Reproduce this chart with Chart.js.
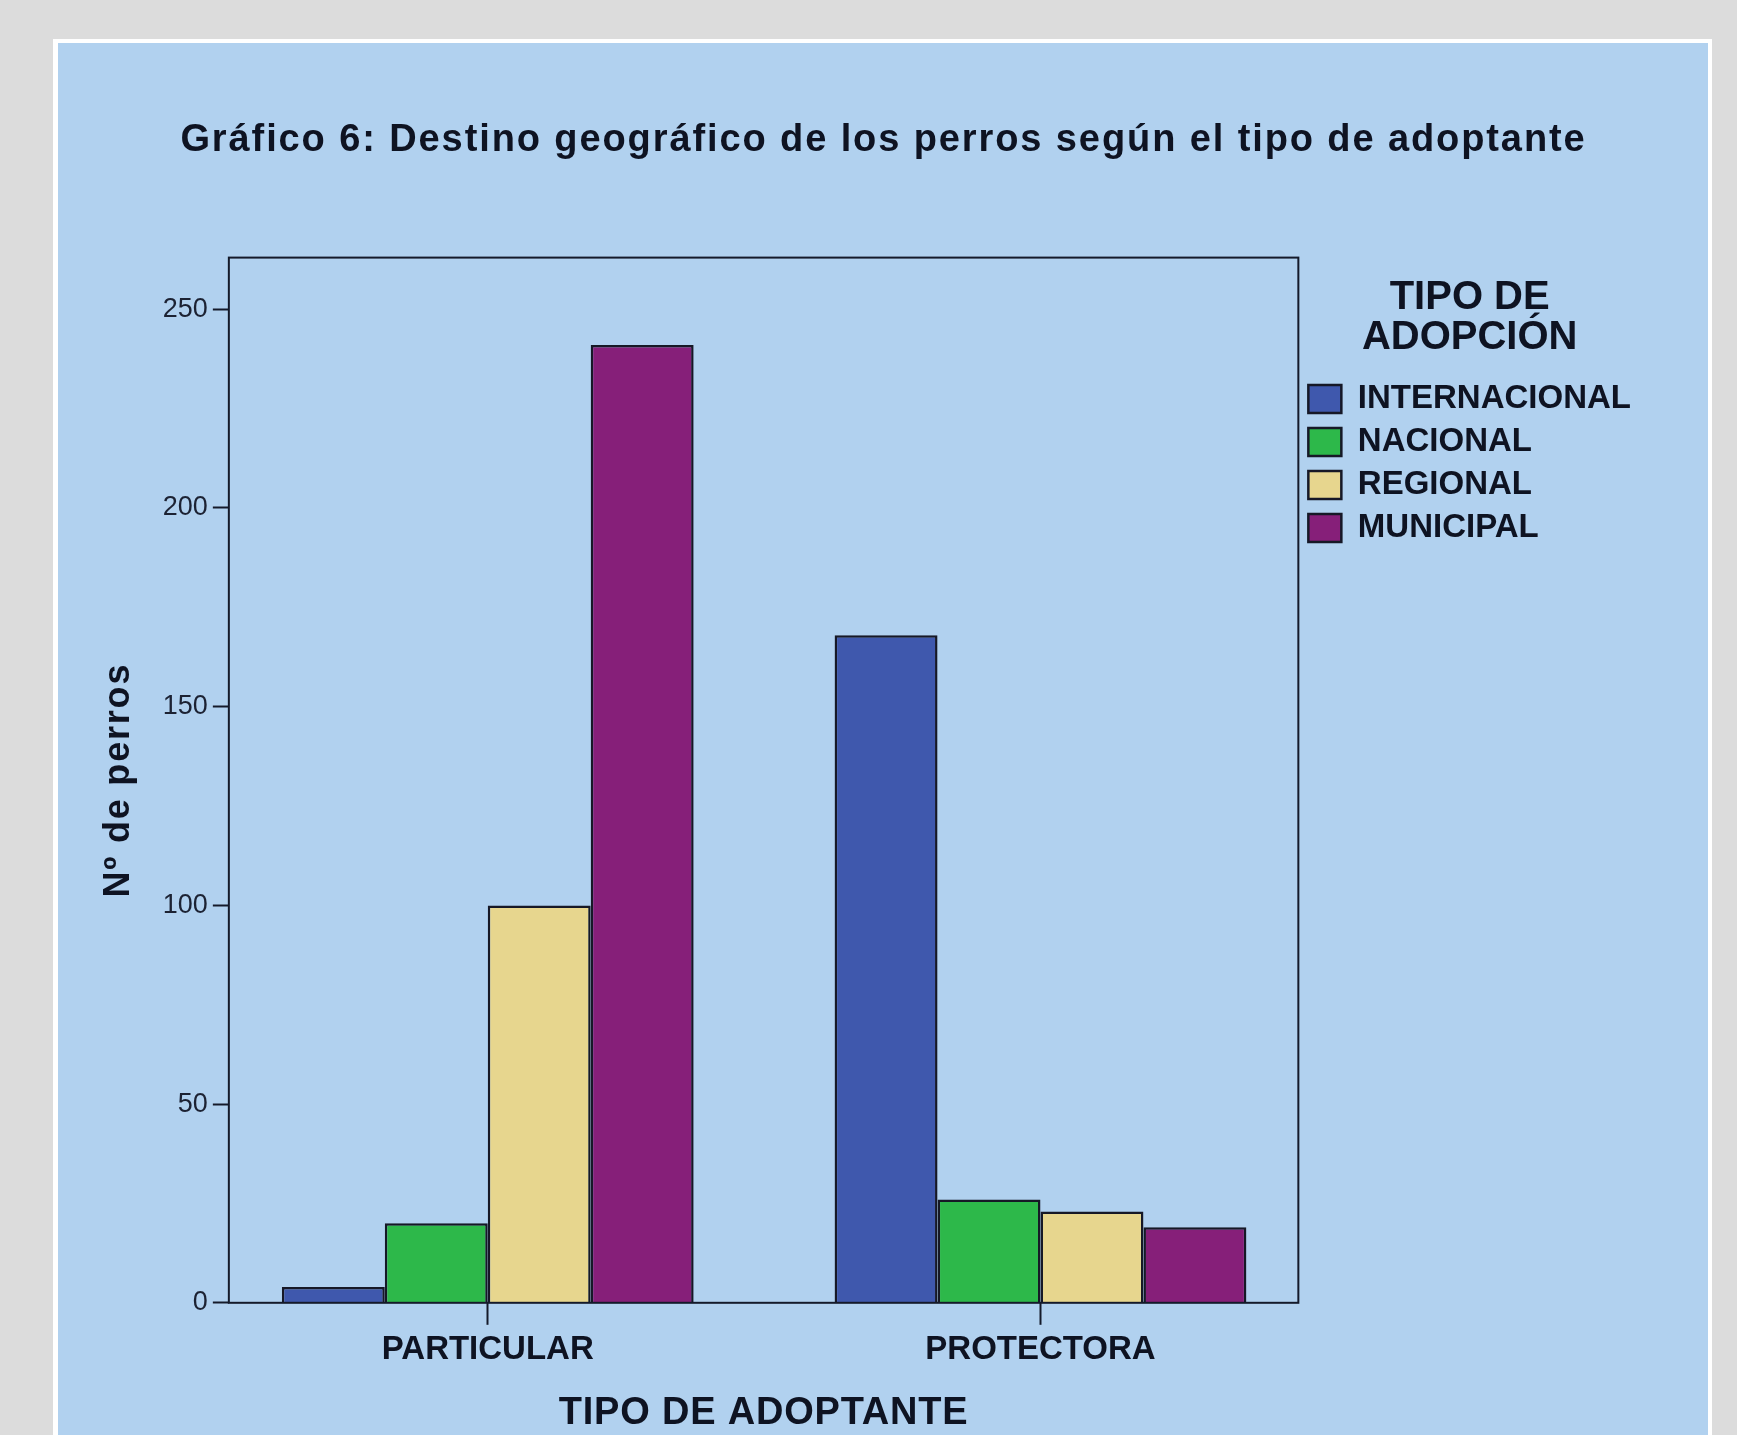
<!DOCTYPE html>
<html><head><meta charset="utf-8">
<script src="https://cdn.jsdelivr.net/npm/chart.js@4.4.1/dist/chart.umd.min.js"></script>
<style>
html,body{margin:0;padding:0;background:#dcdcdc;overflow:hidden;width:1737px;height:1435px;}
#frame{position:absolute;left:53px;top:39px;width:1659px;height:1420px;background:#ffffff;}
#inner{position:absolute;left:5px;top:4px;width:1650px;height:1420px;background:#b1d1ef;}
#wrap{position:absolute;left:0;top:0;width:1650px;height:1393px;}
</style></head><body>
<div id="frame"><div id="inner"><div id="wrap"><canvas id="c"></canvas></div></div></div>
<script>
const categories = ['PARTICULAR', 'PROTECTORA'];
const seriesNames = ['INTERNACIONAL', 'NACIONAL', 'REGIONAL', 'MUNICIPAL'];
const internacional = [4, 168];
const nacional = [20, 26];
const regional = [100, 23];
const municipal = [241, 19];
const yTicks = [0, 50, 100, 150, 200, 250];
const seriesColors = ['#3f58ad', '#2db84a', '#e7d68e', '#861f79'];

const seriesValues = [internacional, nacional, regional, municipal];
const ink = '#0e1322';
const FONT = "'Liberation Sans', Arial, sans-serif";

function withSpacing(obj, method, spacing) {
  if (!obj || obj['_ls_' + method]) return;
  const orig = obj[method].bind(obj);
  obj[method] = function (...args) {
    const c = this.ctx;
    c.save();
    c.letterSpacing = spacing;
    orig(...args);
    c.restore();
  };
  obj['_ls_' + method] = true;
}

const spacingPlugin = {
  id: 'spacing',
  beforeDraw(chart) {
    withSpacing(chart.titleBlock, 'draw', '1.9px');
    withSpacing(chart.scales.y, 'drawTitle', '1.8px');
    withSpacing(chart.scales.x, 'drawTitle', '0.8px');
  }
};

const plotFrame = {
  id: 'plotFrame',
  afterDatasetsDraw(chart) {
    const a = chart.chartArea, ctx = chart.ctx;
    ctx.save();
    ctx.strokeStyle = '#141a2a';
    ctx.lineWidth = 2;
    ctx.strokeRect(a.left, a.top, a.right - a.left, a.bottom - a.top);
    ctx.restore();
  }
};

new Chart(document.getElementById('c'), {
  type: 'bar',
  data: {
    datasets: seriesNames.map((name, i) => ({
      label: name,
      data: seriesValues[i].map((v, j) => ({x: j, y: v})),
      backgroundColor: seriesColors[i],
      borderColor: '#161826',
      borderWidth: 2.5,
      barPercentage: 1,
      categoryPercentage: 0.745
    }))
  },
  options: {
    responsive: true,
    maintainAspectRatio: false,
    animation: false,
    layout: {padding: {left: 68, right: 67, top: 0, bottom: 0}},
    scales: {
      x: {
        type: 'linear',
        offset: false,
        min: -0.4684,
        max: 1.4665,
        afterBuildTicks: (scale) => { scale.ticks = categories.map((c, i) => ({value: i})); },
        border: {display: false},
        grid: {offset: false, drawOnChartArea: false, drawTicks: true, tickLength: 22, tickColor: '#141a2a', tickWidth: 2},
        ticks: {
          padding: 5,
          autoSkip: false,
          maxRotation: 0,
          color: ink,
          font: {family: FONT, size: 33, weight: 'bold'},
          callback: (v) => categories[v] !== undefined ? categories[v] : ''
        },
        title: {
          display: true, text: 'TIPO DE ADOPTANTE', color: ink,
          font: {family: FONT, size: 38, weight: 'bold'},
          padding: {top: 16, bottom: 0}
        }
      },
      y: {
        min: 0,
        max: 263,
        afterBuildTicks: (scale) => { scale.ticks = yTicks.map(v => ({value: v})); },
        border: {display: false},
        grid: {drawOnChartArea: false, drawTicks: true, tickLength: 16, tickColor: '#141a2a', tickWidth: 2},
        ticks: {
          padding: 5,
          color: '#1c2233',
          font: {family: FONT, size: 27}
        },
        title: {
          display: true, text: 'Nº de perros', color: ink,
          font: {family: FONT, size: 36, weight: 'bold'},
          padding: {top: -28.6, bottom: 17.2}
        }
      }
    },
    plugins: {
      title: {
        display: true,
        text: 'Gráfico 6: Destino geográfico de los perros según el tipo de adoptante',
        color: ink,
        font: {family: FONT, size: 38, weight: 'bold'},
        padding: {top: 75, bottom: 94}
      },
      legend: {
        position: 'right',
        align: 'start',
        fullSize: false,
        labels: {
          boxWidth: 33, boxHeight: 28, padding: 10, color: ink,
          font: {family: FONT, size: 33, weight: 'bold'}
        },
        title: {
          display: true,
          text: ['TIPO DE', 'ADOPCIÓN'],
          color: ink,
          font: {family: FONT, size: 40, weight: 'bold', lineHeight: 1.02},
          padding: {top: 20, bottom: 54}
        }
      },
      tooltip: {enabled: false}
    }
  },
  plugins: [plotFrame, spacingPlugin]
});
</script>
</body></html>
